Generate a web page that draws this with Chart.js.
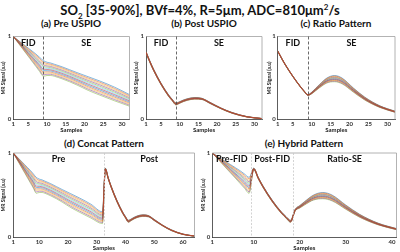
<!DOCTYPE html>
<html>
<head>
<meta charset="utf-8">
<script src="https://cdn.jsdelivr.net/npm/chart.js@4/dist/chart.umd.min.js"></script>
<style>
  body { margin: 0; background: #fff; width: 400px; height: 252px; overflow: hidden; position: relative; font-family: Lato, "Open Sans", sans-serif; }
  .ttl { position: absolute; font-weight: bold; color: #111; white-space: nowrap; text-align: center; }
  #main { left: 0; width: 400px; top: 2px; font-size: 13px; }
  #main sub, #main sup { font-size: 8px; }
  .sub { font-size: 10px; top: 17px; }
  canvas { position: absolute; }
</style>
</head>
<body>
<div id="main" class="ttl">SO<sub>2</sub> [35-90%], BVf=4%, R=5μm, ADC=810μm<sup>2</sup>/s</div>
<div class="ttl sub" style="left:11px;width:120px;">(a) Pre USPIO</div>
<div class="ttl sub" style="left:144px;width:120px;">(b) Post USPIO</div>
<div class="ttl sub" style="left:276px;width:120px;">(c) Ratio Pattern</div>
<div class="ttl sub" style="left:44px;width:120px;top:137px;">(d) Concat Pattern</div>
<div class="ttl sub" style="left:244px;width:120px;top:137px;">(e) Hybrid Pattern</div>
<canvas id="cA"></canvas>
<canvas id="cB"></canvas>
<canvas id="cC"></canvas>
<canvas id="cD"></canvas>
<canvas id="cE"></canvas>
<script>
// sample positions (FID part 1-9, SE part 10-32)
const FID_X = [1, 2, 3, 5, 7, 8, 9];
const SE_X = [10, 11, 12, 14, 16, 18, 21, 24, 28, 32];

// SO2 levels, one curve each (top of the fan first)
const so2 = [90, 85, 80, 75, 70, 65, 60, 55, 50, 45, 40, 35];

// (a) pre USPIO
const preFid = [
    [1, .965, .930, .860, .790, .750, .710],
    [1, .963, .925, .851, .776, .735, .693],
    [1, .960, .921, .842, .763, .719, .675],
    [1, .958, .916, .833, .749, .704, .658],
    [1, .956, .912, .824, .735, .688, .641],
    [1, .954, .907, .815, .722, .673, .624],
    [1, .951, .903, .805, .708, .657, .606],
    [1, .949, .898, .796, .695, .642, .589],
    [1, .947, .894, .787, .681, .626, .572],
    [1, .945, .889, .778, .667, .611, .555],
    [1, .942, .885, .769, .654, .595, .537],
    [1, .940, .880, .760, .640, .580, .520]
];
const preSe = [
    [.690, .680, .665, .635, .600, .565, .515, .465, .390, .300],
    [.675, .666, .652, .622, .587, .551, .500, .450, .375, .287],
    [.661, .653, .639, .609, .574, .538, .485, .434, .360, .275],
    [.646, .639, .625, .595, .560, .524, .470, .419, .345, .262],
    [.632, .625, .612, .582, .547, .510, .455, .403, .330, .249],
    [.617, .612, .599, .569, .534, .497, .440, .388, .315, .236],
    [.603, .598, .586, .556, .521, .483, .425, .372, .300, .224],
    [.588, .585, .573, .543, .508, .470, .410, .357, .285, .211],
    [.574, .571, .559, .529, .495, .456, .395, .341, .270, .198],
    [.559, .557, .546, .516, .481, .442, .380, .326, .255, .185],
    [.545, .544, .533, .503, .468, .429, .365, .310, .240, .173],
    [.530, .530, .520, .490, .455, .415, .350, .295, .225, .160]
];

// (b) post USPIO
const postFid = [
    [.820, .710, .610, .440, .300, .245, .200],
    [.818, .708, .608, .438, .298, .243, .198],
    [.816, .706, .606, .436, .296, .241, .195],
    [.815, .705, .605, .435, .295, .240, .193],
    [.813, .703, .603, .433, .293, .238, .191],
    [.811, .701, .601, .431, .291, .236, .189],
    [.809, .699, .599, .429, .289, .234, .186],
    [.807, .697, .597, .427, .287, .232, .184],
    [.805, .695, .595, .425, .285, .230, .182],
    [.804, .694, .594, .424, .284, .229, .180],
    [.802, .692, .592, .422, .282, .227, .177],
    [.800, .690, .590, .420, .280, .225, .175]
];
const postSe = [
    [.215, .235, .250, .265, .255, .210, .140, .085, .035, .012],
    [.213, .233, .248, .263, .254, .209, .139, .084, .035, .012],
    [.211, .231, .246, .261, .252, .207, .138, .083, .034, .012],
    [.210, .230, .245, .260, .251, .206, .137, .082, .034, .011],
    [.208, .228, .243, .258, .250, .205, .136, .081, .033, .011],
    [.206, .226, .241, .256, .248, .203, .135, .080, .033, .011],
    [.204, .224, .239, .254, .247, .202, .135, .080, .032, .011],
    [.202, .222, .237, .252, .245, .200, .134, .079, .032, .011],
    [.200, .220, .235, .250, .244, .199, .133, .078, .031, .011],
    [.199, .219, .234, .249, .243, .198, .132, .077, .031, .010],
    [.197, .217, .232, .247, .241, .196, .131, .076, .030, .010],
    [.195, .215, .230, .245, .240, .195, .130, .075, .030, .010]
];

// (c) ratio post/pre
const ratioFid = [
    [.830, .745, .665, .525, .400, .345, .300],
    [.829, .744, .664, .524, .399, .344, .299],
    [.828, .743, .663, .523, .398, .343, .298],
    [.827, .742, .662, .522, .397, .342, .297],
    [.826, .741, .661, .521, .396, .341, .296],
    [.825, .740, .660, .520, .395, .340, .295],
    [.825, .740, .660, .520, .395, .340, .295],
    [.824, .739, .659, .519, .394, .339, .294],
    [.823, .738, .658, .518, .393, .338, .293],
    [.822, .737, .657, .517, .392, .337, .292],
    [.821, .736, .656, .516, .391, .336, .291],
    [.820, .735, .655, .515, .390, .335, .290]
];
const ratioSe = [
    [.330, .375, .420, .500, .530, .500, .380, .270, .165, .100],
    [.328, .372, .416, .495, .523, .494, .375, .267, .163, .099],
    [.326, .370, .413, .489, .516, .487, .371, .264, .161, .098],
    [.325, .367, .409, .484, .510, .481, .366, .260, .160, .096],
    [.323, .364, .405, .478, .503, .475, .362, .257, .158, .095],
    [.321, .361, .402, .473, .496, .468, .357, .254, .156, .094],
    [.319, .359, .398, .467, .489, .462, .353, .251, .154, .093],
    [.317, .356, .395, .462, .482, .455, .348, .248, .152, .092],
    [.315, .353, .391, .456, .475, .449, .344, .245, .150, .091],
    [.314, .350, .387, .451, .469, .443, .339, .241, .149, .089],
    [.312, .348, .384, .445, .462, .436, .335, .238, .147, .088],
    [.310, .345, .380, .440, .455, .430, .330, .235, .145, .087]
];

// tick labels
const ticksABC = [1, 5, 10, 15, 20, 25, 30];
const ticksD = [1, 10, 20, 30, 40, 50, 60];
const ticksE = [1, 10, 20, 30, 40];
const ticksY = [0, 1];

// MATLAB default line colours
const colores = ['#0072BD', '#D95319', '#EDB120', '#7E2F8E', '#77AC30', '#4DBEEE', '#A2142F'];

const FONT = 'Lato, "Open Sans", sans-serif';

// joins pieces [xs, ys, shift] into one list of points
function puntos(partes) {
    let out = [];
    partes.forEach(([xs, ys, shift]) => {
        xs.forEach((x, k) => out.push({ x: x + shift, y: ys[k] }));
    });
    return out;
}

// dashed separators, section names and the light top/right box
const decor = {
    id: 'decor',
    afterDatasetsDraw(chart, args, o) {
        const { ctx, chartArea: a, scales: { x } } = chart;
        ctx.save();
        ctx.strokeStyle = '#a0a0a0';
        ctx.lineWidth = 0.8;
        ctx.beginPath();
        ctx.moveTo(a.left, a.top);
        ctx.lineTo(a.right, a.top);
        ctx.lineTo(a.right, a.bottom);
        ctx.stroke();

        ctx.strokeStyle = o.lineColor;
        ctx.lineWidth = 0.8;
        ctx.setLineDash(o.dash);
        o.bounds.slice(1, -1).forEach(v => {
            const px = Math.round(x.getPixelForValue(v)) + 0.5;
            ctx.beginPath();
            ctx.moveTo(px, a.top);
            ctx.lineTo(px, a.bottom);
            ctx.stroke();
        });
        ctx.setLineDash([]);

        ctx.fillStyle = '#111';
        ctx.font = 'bold 9px ' + FONT;
        ctx.textAlign = 'center';
        ctx.textBaseline = 'top';
        o.names.forEach((t, k) => {
            const mid = (o.bounds[k] + o.bounds[k + 1]) / 2;
            ctx.fillText(t, x.getPixelForValue(mid), a.top + 2);
        });
        ctx.restore();
    }
};

function panel(id, caja, xmax, xticks, series, bounds, names, lineColor, dash) {
    const cv = document.getElementById(id);
    cv.style.left = caja.left + 'px';
    cv.style.top = caja.top + 'px';
    cv.width = caja.w;
    cv.height = caja.h;

    const datasets = series.map((pts, i) => {
        const c = i % colores.length;
        return {
            label: 'SO2 ' + so2[i] + '%',
            data: pts,
            borderColor: colores[c],
            borderWidth: 0.5,
            pointRadius: 0,
            cubicInterpolationMode: 'monotone',
            // orange / dark red end up on top, like the brownish band in the original
            order: (c === 1 || c === 6) ? 0 : 1
        };
    });

    const tickFont = { family: FONT, size: 6, weight: 'bold' };
    const noGrid = { display: false, drawTicks: false, tickLength: 0 };

    new Chart(cv, {
        type: 'line',
        data: { datasets },
        options: {
            responsive: false,
            animation: false,
            events: [],
            layout: { padding: { left: 0, top: caja.pt, right: caja.pr, bottom: 0 } },
            plugins: {
                legend: { display: false },
                tooltip: { enabled: false },
                decor: { bounds, names, lineColor, dash }
            },
            scales: {
                x: {
                    type: 'linear',
                    min: 1,
                    max: xmax,
                    afterBuildTicks: s => { s.ticks = xticks.map(v => ({ value: v })); },
                    afterFit: s => { s.height = caja.xh; },
                    ticks: { font: tickFont, color: '#333', padding: 1, maxRotation: 0, autoSkip: false },
                    grid: noGrid,
                    border: { color: '#333', width: 0.8 },
                    title: { display: true, text: 'Samples', font: { family: FONT, size: 6, weight: 'bold' }, color: '#222', padding: 0 }
                },
                y: {
                    min: 0,
                    max: 1,
                    afterBuildTicks: s => { s.ticks = ticksY.map(v => ({ value: v })); },
                    afterFit: s => { s.width = caja.yw; },
                    ticks: { font: tickFont, color: '#333', padding: 2 },
                    grid: noGrid,
                    border: { color: '#333', width: 0.8 },
                    title: { display: true, text: 'MR Signal (a.u)', font: { family: FONT, size: 5, weight: 'bold' }, color: '#222', padding: 0 }
                }
            }
        },
        plugins: [decor]
    });
}

const n = so2.length;
const idx = [...Array(n).keys()];

panel('cA', { left: 0, top: 28, w: 133, h: 106, pt: 8.5, pr: 3.5, yw: 13.3, xh: 14.5 }, 32, ticksABC,
    idx.map(i => puntos([[FID_X, preFid[i], 0], [SE_X, preSe[i], 0]])),
    [1, 9, 32], ['FID', 'SE'], '#444', [3, 2]);

panel('cB', { left: 133, top: 28, w: 133, h: 106, pt: 8.5, pr: 4, yw: 13, xh: 14.5 }, 32, ticksABC,
    idx.map(i => puntos([[FID_X, postFid[i], 0], [SE_X, postSe[i], 0]])),
    [1, 9, 32], ['FID', 'SE'], '#444', [3, 2]);

panel('cC', { left: 266, top: 28, w: 134, h: 106, pt: 8.5, pr: 5, yw: 11.7, xh: 14.5 }, 32, ticksABC,
    idx.map(i => puntos([[FID_X, ratioFid[i], 0], [SE_X, ratioSe[i], 0]])),
    [1, 9, 32], ['FID', 'SE'], '#444', [3, 2]);

panel('cD', { left: 0, top: 145, w: 200, h: 107, pt: 8, pr: 5.5, yw: 13.3, xh: 15 }, 64, ticksD,
    idx.map(i => puntos([[FID_X, preFid[i], 0], [SE_X, preSe[i], 0], [FID_X, postFid[i], 32], [SE_X, postSe[i], 32]])),
    [1, 32.5, 64], ['Pre', 'Post'], '#c8c8c8', [2, 1.5]);

panel('cE', { left: 200, top: 145, w: 200, h: 107, pt: 8, pr: 3.5, yw: 12.3, xh: 15 }, 41, ticksE,
    idx.map(i => puntos([[FID_X, preFid[i], 0], [FID_X, postFid[i], 9], [SE_X, ratioSe[i], 9]])),
    [1, 9.5, 18.5, 41], ['Pre-FID', 'Post-FID', 'Ratio-SE'], '#c8c8c8', [2, 1.5]);
</script>
</body>
</html>
